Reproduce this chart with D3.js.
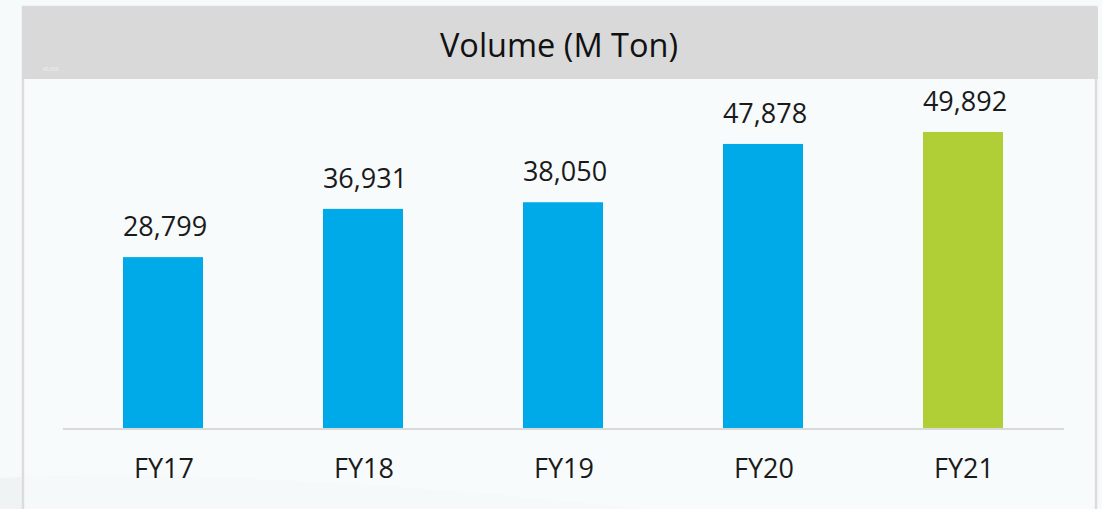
<!DOCTYPE html>
<html>
<head>
<meta charset="utf-8">
<script src="https://cdn.jsdelivr.net/npm/d3@7"></script>
<style>
  html, body { margin: 0; padding: 0; background: #f7fafb; }
  svg { display: block; }
</style>
</head>
<body>
<svg id="chart" width="1102" height="509"></svg>
<script>
var categories = ['FY17', 'FY18', 'FY19', 'FY20', 'FY21'];
var volumes = [28799, 36931, 38050, 47878, 49892];
var yMax = 60000;
var title = 'Volume (M Ton)';

var
  svg = d3.select('#chart'),
  W = +svg.attr('width'),
  H = +svg.attr('height'),
  margin = {top: 72, left: 63, right: 39, bottom: 81},
  blue = '#00a9e7',
  green = '#b0ce36'
  ;

// faint swoosh in the page background
svg.append('path')
  .attr('d', 'M0,478 C180,470 420,485 640,509 L0,509 Z')
  .attr('fill', '#f0f3f4');

// panel
svg.append('rect')
  .attr('x', 23).attr('y', 7)
  .attr('width', 1073).attr('height', H)
  .attr('fill', '#f8fbfc')
  .attr('fill-opacity', 0.7)
  .attr('stroke', '#dcdcdc')
  .attr('stroke-width', 2.5);

svg.append('rect')
  .attr('x', 22).attr('y', 7)
  .attr('width', 1076).attr('height', 72)
  .attr('fill', '#d9d9d9');

svg.append('text')
  .attr('x', 559).attr('y', 57)
  .attr('text-anchor', 'middle')
  .style('font-family', '"Open Sans", sans-serif')
  .style('font-size', '32.5px')
  .attr('fill', '#111')
  .text(title);

var xScale = d3.scaleBand()
  .domain(categories)
  .range([margin.left, W - margin.right])
  .paddingInner(0.6)
  .paddingOuter(0.3);

var yScale = d3.scaleLinear()
  .domain([0, yMax])
  .range([H - margin.bottom, margin.top]);

// leftover top tick label
svg.append('text')
  .attr('x', 43).attr('y', yScale(yMax) - 1)
  .style('font-family', '"Open Sans", sans-serif')
  .style('font-size', '5px')
  .attr('fill', '#f2f2f2')
  .text(d3.format(',')(yMax));

svg.selectAll('rect.bar')
  .data(volumes)
  .enter().append('rect')
  .attr('class', 'bar')
  .attr('x', function(d, i){ return xScale(categories[i]); })
  .attr('y', function(d){ return yScale(d); })
  .attr('width', xScale.bandwidth())
  .attr('height', function(d){ return yScale(0) - yScale(d); })
  .attr('fill', function(d, i){ return i === categories.length - 1 ? green : blue; });

// baseline
svg.append('line')
  .attr('x1', margin.left).attr('x2', W - margin.right + 1)
  .attr('y1', yScale(0) + 1).attr('y2', yScale(0) + 1)
  .attr('stroke', '#d9d9d9')
  .attr('stroke-width', 2);

svg.selectAll('text.value')
  .data(volumes)
  .enter().append('text')
  .attr('class', 'value')
  .attr('x', function(d, i){ return xScale(categories[i]) + xScale.bandwidth() / 2 + 2; })
  .attr('y', function(d){ return yScale(d) - 21; })
  .attr('text-anchor', 'middle')
  .style('font-family', '"Open Sans", sans-serif')
  .style('font-size', '27px')
  .attr('fill', '#1a1a1a')
  .text(d3.format(','));

svg.selectAll('text.cat')
  .data(categories)
  .enter().append('text')
  .attr('class', 'cat')
  .attr('x', function(d){ return xScale(d) + xScale.bandwidth() / 2 + 1; })
  .attr('y', 478)
  .attr('text-anchor', 'middle')
  .style('font-family', '"Open Sans", sans-serif')
  .style('font-size', '27px')
  .attr('fill', '#1a1a1a')
  .text(function(d){ return d; });
</script>
</body>
</html>
